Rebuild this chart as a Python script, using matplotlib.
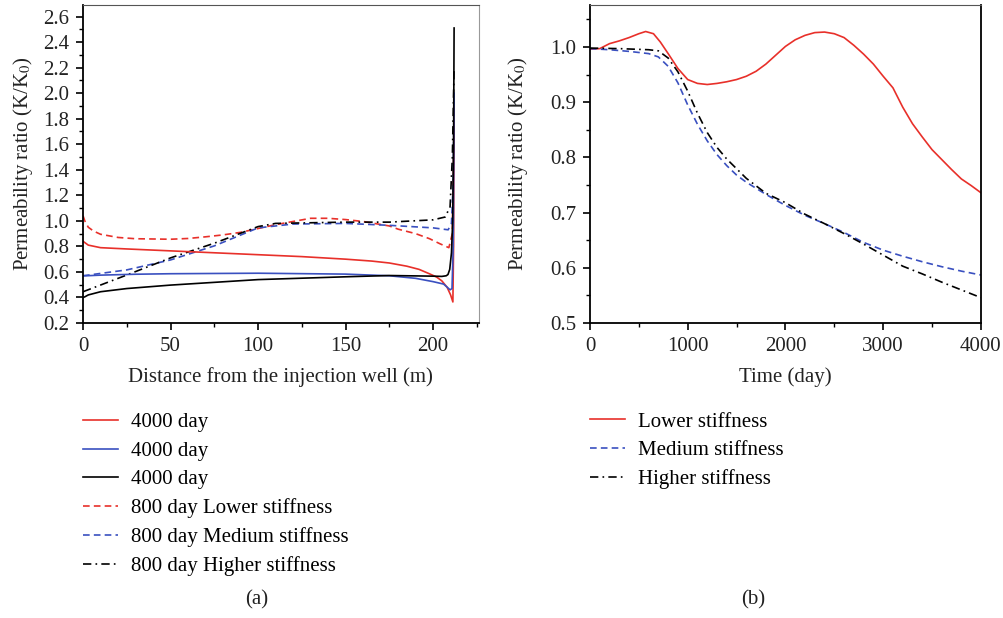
import matplotlib
matplotlib.use('Agg')
import matplotlib.pyplot as plt
from matplotlib.ticker import MultipleLocator

plt.rcParams['font.family'] = ['Liberation Serif', 'DejaVu Serif']
plt.rcParams['mathtext.fontset'] = 'stix'
plt.rcParams['font.size'] = 15

# (a) permeability ratio vs distance
red_x = [0, 1, 3, 10, 25, 50, 75, 100, 125, 150, 165, 175, 185, 192, 198, 202, 205, 208, 210, 211.3, 211.7, 212]
red_y = [0.84, 0.83, 0.81, 0.79, 0.78, 0.765, 0.75, 0.735, 0.72, 0.70, 0.685, 0.67, 0.645, 0.62, 0.585, 0.56, 0.53, 0.48, 0.42, 0.365, 0.8, 1.9]

blue_x = [0, 2, 10, 30, 50, 100, 150, 175, 190, 200, 206, 208.5, 209.7, 210.8, 211.5, 212]
blue_y = [0.57, 0.57, 0.575, 0.582, 0.586, 0.59, 0.583, 0.57, 0.55, 0.524, 0.505, 0.475, 0.46, 0.47, 0.8, 2.0]

black_x = [0, 1, 3, 10, 25, 50, 100, 150, 175, 200, 205, 207.5, 208.5, 209.5, 210.5, 211.2, 211.7, 212]
black_y = [0.40, 0.405, 0.42, 0.445, 0.47, 0.497, 0.54, 0.562, 0.572, 0.567, 0.565, 0.57, 0.58, 0.62, 0.75, 1.0, 1.6, 2.51]

redd_x = [0, 1, 3, 6, 10, 20, 30, 50, 60, 70, 80, 90, 100, 110, 120, 130, 140, 150, 160, 175, 180, 190, 198, 204, 209, 211, 212]
redd_y = [1.04, 1.0, 0.95, 0.92, 0.895, 0.87, 0.86, 0.856, 0.862, 0.875, 0.89, 0.91, 0.94, 0.97, 0.995, 1.02, 1.02, 1.01, 0.995, 0.96, 0.935, 0.90, 0.86, 0.82, 0.79, 0.9, 1.8]

blued_x = [0, 25, 50, 75, 100, 120, 150, 175, 200, 208.6, 210.5, 211.5, 212]
blued_y = [0.57, 0.616, 0.694, 0.804, 0.945, 0.975, 0.98, 0.965, 0.945, 0.93, 0.98, 1.3, 2.0]

blackd_x = [0, 25, 50, 75, 100, 110, 150, 175, 200, 206.9, 209.7, 211, 212]
blackd_y = [0.445, 0.576, 0.71, 0.825, 0.955, 0.98, 0.99, 0.99, 1.008, 1.03, 1.11, 1.5, 2.2]

# (b) permeability ratio vs time
t_red = [0, 100, 200, 300, 400, 500, 570, 650, 720, 800, 900, 1000, 1100, 1200, 1300, 1400, 1500, 1600, 1700, 1800,
         1900, 2000, 2100, 2200, 2300, 2400, 2500, 2600, 2700, 2800, 2900, 3000, 3100, 3200, 3300, 3400, 3500,
         3600, 3700, 3800, 3900, 4000]
k_red = [0.996, 0.997, 1.006, 1.011, 1.017, 1.024, 1.028, 1.024, 1.009, 0.988, 0.961, 0.941, 0.934, 0.932, 0.934,
         0.937, 0.941, 0.947, 0.956, 0.969, 0.985, 1.001, 1.013, 1.021, 1.026, 1.027, 1.024, 1.017, 1.003, 0.987,
         0.969, 0.947, 0.926, 0.891, 0.861, 0.837, 0.814, 0.796, 0.778, 0.761, 0.749, 0.736]

t_blue = [0, 200, 400, 600, 700, 800, 900, 1000, 1100, 1200, 1300, 1400, 1500, 1600, 1800, 2000, 2200, 2400, 2600,
          2800, 3000, 3200, 3400, 3600, 3800, 4000]
k_blue = [0.997, 0.995, 0.992, 0.988, 0.982, 0.965, 0.935, 0.895, 0.86, 0.83, 0.805, 0.785, 0.768, 0.755, 0.733,
          0.713, 0.695, 0.68, 0.664, 0.646, 0.632, 0.621, 0.611, 0.602, 0.594, 0.587]

t_black = [0, 300, 600, 700, 800, 900, 1000, 1100, 1200, 1300, 1400, 1600, 1800, 2000, 2200, 2400, 2600, 2800, 3000,
           3200, 3400, 3600, 3800, 4000]
k_black = [0.998, 0.997, 0.995, 0.993, 0.98, 0.955, 0.92, 0.88, 0.845, 0.818, 0.797, 0.762, 0.735, 0.718, 0.697,
           0.68, 0.662, 0.643, 0.623, 0.603, 0.589, 0.574, 0.56, 0.546]

RED = '#e8302a'
BLUE = '#3a50c0'

fig = plt.figure(figsize=(10.04, 6.18), dpi=100)
ax1 = fig.add_axes([0.0827, 0.4773, 0.394, 0.5146])
ax2 = fig.add_axes([0.5876, 0.4773, 0.3894, 0.5146])

lw = 1.2
ax1.plot(redd_x, redd_y, color=RED, lw=lw, dashes=(4, 2.5), label='800 day Lower stiffness')
ax1.plot(blued_x, blued_y, color=BLUE, lw=lw, dashes=(4, 2.5), label='800 day Medium stiffness')
ax1.plot(blackd_x, blackd_y, color='black', lw=lw, dashes=(5, 2.5, 1, 2.5), label='800 day Higher stiffness')
ax1.plot(red_x, red_y, color=RED, lw=lw, label='4000 day')
ax1.plot(blue_x, blue_y, color=BLUE, lw=lw, label='4000 day')
ax1.plot(black_x, black_y, color='black', lw=lw, label='4000 day')

ax1.set_xlim(0, 226)
ax1.set_ylim(0.2, 2.69)
ax1.xaxis.set_major_locator(MultipleLocator(50))
ax1.xaxis.set_minor_locator(MultipleLocator(25))
ax1.yaxis.set_major_locator(MultipleLocator(0.2))
ax1.yaxis.set_minor_locator(MultipleLocator(0.1))
ax1.yaxis.set_major_formatter(matplotlib.ticker.FormatStrFormatter('%.1f'))
ax1.set_xlabel('Distance from the injection well (m)', labelpad=8)
ax1.set_ylabel('Permeability ratio (K/K$_0$)', labelpad=6)

ax2.plot(t_red, k_red, color=RED, lw=lw, label='Lower stiffness')
ax2.plot(t_blue, k_blue, color=BLUE, lw=lw, dashes=(4, 2.5), label='Medium stiffness')
ax2.plot(t_black, k_black, color='black', lw=lw, dashes=(5, 2.5, 1, 2.5), label='Higher stiffness')
ax2.set_xlim(0, 4000)
ax2.set_ylim(0.5, 1.076)
ax2.xaxis.set_major_locator(MultipleLocator(1000))
ax2.xaxis.set_minor_locator(MultipleLocator(500))
ax2.yaxis.set_major_locator(MultipleLocator(0.1))
ax2.yaxis.set_minor_locator(MultipleLocator(0.05))
ax2.yaxis.set_major_formatter(matplotlib.ticker.FormatStrFormatter('%.1f'))
ax2.set_xlabel('Time (day)', labelpad=8)
ax2.set_ylabel('Permeability ratio (K/K$_0$)', labelpad=14)

for ax in (ax1, ax2):
    ax.tick_params(which='major', direction='out', length=5, width=1.2, colors='black', labelcolor='#222222', pad=5)
    ax.tick_params(which='minor', direction='out', length=3, width=1.0)
    ax.tick_params(top=False, right=False, which='both')
    ax.spines['left'].set_linewidth(1.3)
    ax.spines['bottom'].set_linewidth(1.3)
    ax.spines['top'].set_color('#555555')
    ax.spines['right'].set_color('#999999')
    ax.yaxis.label.set_color('#222222')
    ax.xaxis.label.set_color('#222222')

ax2.spines['right'].set_color('black')
ax2.spines['right'].set_linewidth(1.3)

# legends below panels
h, l = ax1.get_legend_handles_labels()
order = [3, 4, 5, 0, 1, 2]
fig.legend([h[i] for i in order], [l[i] for i in order], loc='upper left',
           bbox_to_anchor=(0.0827, 0.332), frameon=False, borderpad=0, borderaxespad=0,
           handlelength=1.7, handletextpad=0.6, labelspacing=0.43)
h2, l2 = ax2.get_legend_handles_labels()
fig.legend(h2, l2, loc='upper left', bbox_to_anchor=(0.5876, 0.333), frameon=False, borderpad=0,
           borderaxespad=0, handlelength=1.7, handletextpad=0.6, labelspacing=0.43)

fig.text(257 / 1004, 1 - 600 / 618, '(a)', ha='center', va='center', color='#222222')
fig.text(753 / 1004, 1 - 600 / 618, '(b)', ha='center', va='center', color='#222222')

fig.savefig('out.png', dpi=100)
